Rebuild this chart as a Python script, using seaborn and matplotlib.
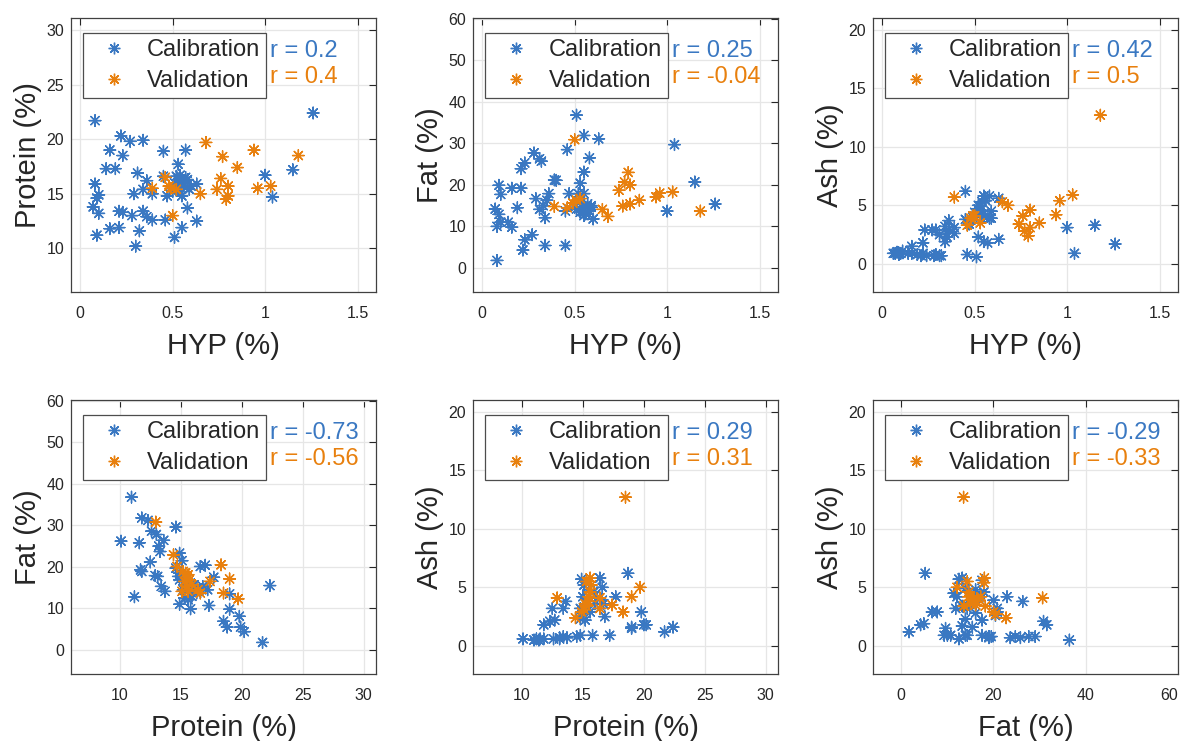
import pandas as pd
import matplotlib
matplotlib.use('Agg')
import matplotlib.pyplot as plt
import seaborn as sns

# ---- values ----
# panel 1: Protein vs HYP
p1_cal_x = [1.26, 0.08, 0.22, 0.27, 0.34, 0.16, 0.23, 0.45, 0.57, 0.14, 0.19, 0.53, 0.31, 0.08, 0.36,
            0.45, 0.52, 0.54, 0.57, 0.58, 0.63, 0.60, 0.59, 0.56, 0.53, 0.51, 0.55, 0.47, 0.10, 0.09,
            0.29, 0.34, 0.39, 1.00, 1.15, 1.04, 0.07, 0.10, 0.21, 0.23, 0.28, 0.34, 0.36, 0.39, 0.46,
            0.58, 0.63, 0.16, 0.21, 0.32, 0.09, 0.55, 0.51, 0.30, 0.54, 0.56, 0.52, 0.50]
p1_cal_y = [22.4, 21.7, 20.3, 19.8, 19.9, 19.0, 18.5, 18.9, 19.0, 17.3, 17.3, 17.7, 16.9, 15.9, 16.2,
            16.6, 16.6, 16.7, 16.5, 16.3, 15.9, 15.7, 15.4, 15.7, 15.4, 16.0, 14.8, 14.8, 14.9, 14.6,
            15.0, 15.4, 15.0, 16.7, 17.2, 14.7, 13.8, 13.2, 13.4, 13.3, 13.0, 13.4, 12.9, 12.6, 12.6,
            13.7, 12.5, 11.8, 11.9, 11.6, 11.2, 11.9, 11.0, 10.2, 16.3, 16.0, 15.6, 15.2]
p1_val_x = [0.68, 0.77, 0.94, 1.18, 0.85, 0.76, 0.46, 0.39, 0.48, 0.49, 0.52, 0.74, 0.80, 0.65, 0.96,
            1.03, 0.80, 0.79, 0.50]
p1_val_y = [19.7, 18.4, 19.0, 18.5, 17.4, 16.4, 16.5, 15.5, 15.7, 15.5, 15.4, 15.4, 15.7, 15.0, 15.5,
            15.7, 14.8, 14.5, 13.0]

# panel 2: Fat vs HYP
p2_cal_x = [0.51, 0.55, 0.63, 1.04, 0.46, 0.28, 0.31, 0.32, 0.23, 0.21, 0.58, 0.55, 0.39, 0.40, 0.53,
            1.15, 0.09, 0.10, 0.16, 0.21, 0.29, 0.36, 0.35, 0.47, 0.52, 0.55, 1.26, 0.19, 0.31, 0.33,
            0.45, 0.51, 0.54, 0.56, 0.58, 0.59, 0.55, 0.60, 1.00, 0.07, 0.09, 0.10, 0.08, 0.14, 0.16,
            0.34, 0.27, 0.23, 0.22, 0.34, 0.45, 0.08, 0.53, 0.50, 0.57, 0.59]
p2_cal_y = [36.8, 31.9, 31.1, 29.7, 28.5, 27.7, 26.3, 25.7, 25.3, 23.9, 26.5, 23.1, 21.2, 21.1, 20.4,
            20.7, 19.9, 17.7, 19.2, 19.2, 16.7, 17.9, 16.3, 17.9, 17.9, 17.9, 15.4, 14.5, 14.1, 15.0,
            13.7, 14.2, 14.6, 13.0, 13.7, 14.6, 12.6, 11.8, 13.7, 14.2, 12.9, 11.0, 10.0, 11.0, 9.8,
            12.1, 8.0, 6.8, 4.3, 5.4, 5.4, 1.8, 13.4, 14.6, 15.4, 15.0]
p2_val_x = [0.50, 0.79, 0.77, 0.80, 0.74, 0.96, 0.94, 1.03, 0.85, 0.80, 0.76, 1.18, 0.65, 0.68, 0.39,
            0.46, 0.49, 0.51, 0.53]
p2_val_y = [30.9, 23.0, 20.7, 20.0, 18.7, 18.0, 17.1, 18.3, 16.3, 15.4, 14.9, 13.7, 14.1, 12.4, 14.8,
            14.5, 15.6, 16.3, 16.7]

# panel 3: Ash vs HYP
p3_cal_x = [0.45, 0.55, 0.58, 0.63, 0.52, 0.53, 0.55, 0.59, 0.59, 0.45, 0.36, 0.34, 0.39, 0.23, 0.27,
            0.31, 0.35, 0.39, 0.34, 0.22, 0.16, 0.52, 0.55, 0.57, 0.63, 1.00, 1.15, 1.26, 1.04, 0.07,
            0.09, 0.10, 0.14, 0.19, 0.22, 0.28, 0.31, 0.46, 0.51, 0.52, 0.54, 0.49, 0.47, 0.06, 0.11,
            0.24, 0.58, 0.56, 0.08, 0.21, 0.29, 0.32, 0.50, 0.55, 0.36, 0.29, 0.16]
p3_cal_y = [6.2, 5.8, 5.8, 5.6, 5.0, 4.6, 4.3, 4.5, 3.9, 3.8, 3.7, 3.2, 3.1, 2.9, 2.9,
            2.5, 2.3, 2.6, 1.9, 1.8, 1.5, 2.3, 1.9, 1.8, 2.1, 3.1, 3.3, 1.7, 0.9, 0.9,
            0.8, 0.9, 0.9, 0.8, 0.9, 0.7, 0.7, 0.8, 0.6, 4.7, 5.3, 4.0, 3.4, 0.9, 1.1,
            0.7, 3.9, 5.4, 1.0, 0.7, 0.8, 0.7, 4.4, 4.0, 2.9, 2.9, 0.9]
p3_val_x = [1.18, 1.03, 0.96, 0.39, 0.65, 0.68, 0.80, 0.76, 0.94, 0.85, 0.74, 0.80, 0.77, 0.79, 0.49,
            0.48, 0.46, 0.53, 0.50]
p3_val_y = [12.7, 5.9, 5.4, 5.7, 5.3, 5.0, 4.6, 4.1, 4.2, 3.5, 3.4, 3.1, 2.8, 2.4, 4.1,
            3.9, 3.3, 3.5, 4.1]

# panel 4: Fat vs Protein
p4_cal_x = [10.96, 11.8, 12.3, 14.6, 12.6, 13.0, 13.6, 13.2, 13.3, 10.1, 11.6, 14.9, 15.1, 12.5, 11.7,
            11.8, 16.6, 17.0, 14.6, 12.9, 13.1, 14.8, 17.7, 13.4, 13.7, 14.9, 15.3, 15.7, 16.1, 16.8,
            17.2, 22.3, 19.0, 11.2, 15.3, 15.9, 16.3, 14.9, 15.8, 17.3, 19.0, 19.8, 18.5, 18.8, 19.9,
            20.2, 21.7, 14.9, 15.1, 16.0, 15.6, 16.7, 15.2, 15.5]
p4_cal_y = [36.8, 31.8, 31.2, 29.6, 28.6, 27.8, 26.4, 25.0, 23.7, 26.2, 25.8, 23.3, 21.5, 21.2, 19.3,
            18.9, 20.1, 20.4, 19.7, 17.9, 17.7, 17.7, 17.5, 15.3, 14.1, 16.9, 15.7, 14.9, 15.7, 15.3,
            14.5, 15.5, 13.5, 12.8, 12.5, 12.9, 13.7, 11.0, 9.9, 10.7, 9.8, 8.1, 6.9, 5.5, 5.5,
            4.4, 1.8, 18.5, 17.3, 14.1, 12.1, 14.5, 14.5, 16.5]
p4_val_x = [12.95, 14.4, 14.7, 18.3, 19.0, 15.4, 15.6, 15.7, 15.5, 16.4, 17.4, 15.1, 18.5, 19.7, 15.3,
            15.9, 15.6, 16.6, 15.2]
p4_val_y = [30.8, 22.9, 20.1, 20.5, 17.1, 18.5, 18.1, 16.9, 15.3, 14.5, 16.5, 14.1, 13.7, 12.3, 16.5,
            15.7, 14.1, 13.7, 18.9]

# panel 5: Ash vs Protein
p5_cal_x = [18.7, 14.9, 16.4, 16.6, 15.0, 17.7, 13.6, 12.5, 13.4, 14.8, 16.0, 16.4, 16.8, 19.8, 15.2,
            12.3, 12.7, 11.8, 19.0, 20.0, 20.2, 21.7, 22.4, 10.1, 11.0, 11.2, 11.5, 11.8, 12.6, 13.1,
            13.4, 13.7, 14.5, 14.8, 15.8, 17.2, 19.0, 15.1, 15.5, 15.9, 16.2, 16.6, 15.2, 16.7, 15.0,
            15.6, 14.8, 13.1, 11.4]
p5_cal_y = [6.2, 5.7, 5.8, 5.0, 4.2, 4.2, 3.8, 3.2, 3.2, 3.2, 3.6, 3.2, 2.5, 2.9, 2.2,
            2.1, 2.2, 1.8, 1.6, 1.8, 1.8, 1.2, 1.6, 0.6, 0.5, 0.6, 0.6, 0.6, 0.6, 0.7,
            0.8, 0.7, 0.8, 0.9, 0.9, 0.9, 1.5, 5.2, 4.8, 4.6, 4.1, 3.9, 3.6, 3.6, 2.8,
            2.9, 2.3, 0.6, 0.5]
p5_val_x = [18.5, 15.6, 15.3, 19.7, 12.9, 19.0, 15.6, 16.4, 17.4, 15.5, 15.3, 16.4, 18.3, 14.9, 14.4,
            15.7, 15.5, 15.2, 15.1]
p5_val_y = [12.7, 5.8, 5.5, 5.0, 4.1, 4.2, 4.6, 4.1, 3.5, 3.8, 3.4, 3.2, 2.9, 2.9, 2.4,
            5.2, 4.2, 3.6, 3.1]

# panel 6: Ash vs Fat
p6_cal_x = [5.3, 12.6, 13.3, 17.6, 14.0, 16.2, 11.5, 12.2, 23.0, 20.1, 26.4, 20.9, 11.9, 13.3, 6.8,
            7.9, 16.2, 14.0, 17.6, 20.5, 30.9, 31.6, 4.3, 5.0, 9.7, 13.3, 15.5, 1.8, 10.1, 10.8,
            12.6, 14.0, 17.6, 19.1, 19.6, 23.7, 24.8, 25.9, 27.7, 29.1, 36.5, 9.4, 14.7, 16.9, 15.5,
            14.4, 18.0, 20.9, 19.1, 14.4]
p6_cal_y = [6.2, 5.7, 5.8, 5.6, 4.9, 4.8, 4.5, 4.2, 4.2, 3.9, 3.8, 3.2, 3.2, 3.4, 2.9,
            2.9, 2.8, 2.3, 2.2, 2.6, 2.1, 1.8, 1.8, 1.9, 1.5, 1.7, 1.6, 1.2, 0.9, 0.9,
            0.6, 0.9, 0.9, 0.7, 0.8, 0.7, 0.8, 0.7, 0.8, 0.8, 0.5, 0.9, 4.6, 4.1, 3.5,
            3.2, 4.6, 2.9, 0.8, 0.9]
p6_val_x = [13.6, 18.1, 18.0, 14.4, 12.2, 30.7, 14.7, 15.8, 17.3, 15.1, 16.2, 18.3, 13.7, 20.1, 20.5,
            22.8, 15.5, 14.7, 16.5]
p6_val_y = [12.7, 5.8, 5.4, 5.5, 5.0, 4.1, 4.2, 4.1, 4.2, 3.6, 3.5, 3.4, 3.4, 2.9, 2.7,
            2.4, 3.9, 4.6, 3.8]

# correlation labels shown in each panel (calibration, validation)
r_cal = ['0.2', '0.25', '0.42', '-0.73', '0.29', '-0.29']
r_val = ['0.4', '-0.04', '0.5', '-0.56', '0.31', '-0.33']

x_labels = ['HYP (%)', 'HYP (%)', 'HYP (%)', 'Protein (%)', 'Protein (%)', 'Fat (%)']
y_labels = ['Protein (%)', 'Fat (%)', 'Ash (%)', 'Fat (%)', 'Ash (%)', 'Ash (%)']

hyp_ticks = [0, 0.5, 1, 1.5]
hyp_tick_labels = ['0', '0.5', '1', '1.5']
protein_ticks = [10, 15, 20, 25, 30]
fat_ticks = [0, 10, 20, 30, 40, 50, 60]
fat_x_ticks = [0, 20, 40, 60]
ash_ticks = [0, 5, 10, 15, 20]

BLUE = '#3a78c2'
ORANGE = '#e8800e'
DARK = '#262626'

sns.set_style('whitegrid', {'grid.color': '#e6e6e6', 'axes.edgecolor': '#404040'})
plt.rcParams['font.family'] = ['Liberation Sans', 'DejaVu Sans']

fig = plt.figure(figsize=(11.84, 7.41), dpi=100)
W, H = 1184, 741


def make_axes(left, top, width=305, height=274):
    return fig.add_axes([left / W, 1 - (top + height) / H, width / W, height / H])


axes = [make_axes(71, 18), make_axes(473, 18), make_axes(873, 18),
        make_axes(71, 400), make_axes(473, 400), make_axes(873, 400)]

data = [(p1_cal_x, p1_cal_y, p1_val_x, p1_val_y),
        (p2_cal_x, p2_cal_y, p2_val_x, p2_val_y),
        (p3_cal_x, p3_cal_y, p3_val_x, p3_val_y),
        (p4_cal_x, p4_cal_y, p4_val_x, p4_val_y),
        (p5_cal_x, p5_cal_y, p5_val_x, p5_val_y),
        (p6_cal_x, p6_cal_y, p6_val_x, p6_val_y)]

for i, ax in enumerate(axes):
    cx, cy, vx, vy = data[i]
    df = pd.concat([
        pd.DataFrame({'x': cx, 'y': cy, 'set': 'Calibration'}),
        pd.DataFrame({'x': vx, 'y': vy, 'set': 'Validation'}),
    ], ignore_index=True)
    sns.scatterplot(data=df, x='x', y='y', hue='set',
                    palette={'Calibration': BLUE, 'Validation': ORANGE},
                    marker=(8, 2, 0), s=70, linewidth=1.0, ax=ax)

    # rebuild the legend in the boxed style of the reference
    old = ax.get_legend()
    handles = old.legend_handles
    labels = [t.get_text() for t in old.get_texts()]
    old.remove()
    leg = ax.legend(handles, labels, loc='upper left', bbox_to_anchor=(0.039, 0.945),
                    borderaxespad=0, fontsize=17, frameon=True, fancybox=False,
                    framealpha=1, edgecolor='#4d4d4d', borderpad=0.25,
                    handlelength=2.1, handletextpad=0.35, labelspacing=0.38)
    leg.get_frame().set_linewidth(0.9)
    for t in leg.get_texts():
        t.set_color(DARK)

    ax.text(0.653, 0.878, 'r = ' + r_cal[i], color=BLUE, fontsize=17,
            transform=ax.transAxes, va='center', ha='left')
    ax.text(0.653, 0.784, 'r = ' + r_val[i], color=ORANGE, fontsize=17,
            transform=ax.transAxes, va='center', ha='left')

    ax.set_xlabel(x_labels[i], fontsize=21, color=DARK, labelpad=8)
    ax.set_ylabel(y_labels[i], fontsize=21, color=DARK, labelpad=3)

    # axis ranges
    if i < 3:
        ax.set_xlim(-0.05, 1.6)
        ax.set_xticks(hyp_ticks)
        ax.set_xticklabels(hyp_tick_labels)
    elif i < 5:
        ax.set_xlim(6, 31)
        ax.set_xticks(protein_ticks)
    else:
        ax.set_xlim(-6, 60)
        ax.set_xticks(fat_x_ticks)

    if y_labels[i].startswith('Protein'):
        ax.set_ylim(6, 31.1)
        ax.set_yticks(protein_ticks)
    elif y_labels[i].startswith('Fat'):
        ax.set_ylim(-5.8, 60.2)
        ax.set_yticks(fat_ticks)
    else:
        ax.set_ylim(-2.4, 21)
        ax.set_yticks(ash_ticks)

    ax.tick_params(direction='in', length=5, width=0.8, top=True, right=True,
                   labelsize=11.5, colors=DARK)
    ax.tick_params(axis='x', pad=10)
    ax.tick_params(axis='y', pad=5)
    for sp in ax.spines.values():
        sp.set_color('#404040')
        sp.set_linewidth(0.9)
    ax.grid(True, color='#e6e6e6', linewidth=0.9)
    ax.set_axisbelow(True)

# the last fat tick label sits at the figure edge: keep it inside
axes[5].get_xticklabels()[-1].set_horizontalalignment('right')

fig.savefig('out.png', dpi=100)
